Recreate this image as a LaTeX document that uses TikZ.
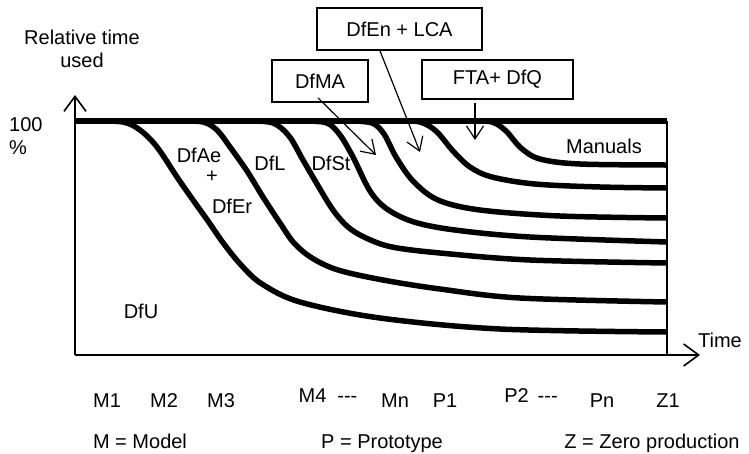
\documentclass[tikz,border=0pt]{standalone}
\usepackage{fontspec}
\setmainfont{Liberation Sans}
\usepackage{tikz}
\usetikzlibrary{positioning,arrows.meta}

\begin{document}
\begin{tikzpicture}[x=1pt, y=-1pt,
  lbl/.style={font=\fontsize{20}{23}\selectfont, inner sep=0pt},
  callout/.style={draw, line width=1.8pt, font=\fontsize{20}{23}\selectfont, inner sep=0pt},
  axis/.style={line width=2pt, -{Straight Barb[length=15pt, width=22pt, line width=1.6pt]}},
  frame/.style={line width=2pt},
  curve/.style={line width=5.5pt},
  pointer/.style={line width=1.2pt, -{Straight Barb[length=13pt, width=17pt, line width=1.2pt]}}]
  \useasboundingbox (0,0) rectangle (749,453);
  % axes and frame
  \coordinate (origin) at (75,355);
  \coordinate (ytip) at (75,95);
  \coordinate (xtip) at (700,355);
  \coordinate (topleft) at (75,121);
  \coordinate (topright) at (667,121);
  \coordinate (botright) at (667,355);
  \draw[axis] (origin) -- (ytip);
  \draw[axis] (origin) -- (xtip);
  \draw[frame] (topright) -- (botright);
  \draw[curve] (topleft) -- (topright);
  % the seven curves, DfU first
  \draw[curve] plot[smooth, tension=0.55] coordinates {(95,121) (123,122) (140,130) (157,147) (177,177) (193,200) (208,221) (224,244) (242,266) (262,284) (300,302) (380,318) (500,329) (667,332)};
  \draw[curve] plot[smooth, tension=0.55] coordinates {(180,121) (203,122) (217,130) (230,147) (247,171) (263,197) (280,223) (294,243) (312,258) (338,270) (383,280) (440,289) (520,298) (667,302)};
  \draw[curve] plot[smooth, tension=0.55] coordinates {(250,121) (273,123) (289,136) (303,160) (317,184) (333,210) (348,227) (366,238) (392,247) (440,253) (530,260) (667,263)};
  \draw[curve] plot[smooth, tension=0.55] coordinates {(305,121) (327,123) (340,135) (353,157) (370,191) (387,209) (414,222) (455,230) (530,237) (667,242)};
  \draw[curve] plot[smooth, tension=0.55] coordinates {(350,121) (372,123) (384,134) (396,157) (413,181) (438,200) (480,210) (560,216) (667,218)};
  \draw[curve] plot[smooth, tension=0.55] coordinates {(400,121) (420,122) (436,131) (453,151) (470,167) (492,177) (535,184) (600,187) (667,188)};
  \draw[curve] plot[smooth, tension=0.55] coordinates {(470,121) (492,122) (506,131) (521,148) (540,159) (580,164) (667,165)};
  % axis texts
  \node[lbl, align=center] (ylabel) at (82,49) {Relative time\\used};
  \node[lbl, align=left, anchor=west] (hundred) at (9,136) {100\\\%};
  \node[lbl, anchor=base] (timelbl) at (720,347) {Time};
  % curve texts
  \node[lbl, anchor=base] (dfae) at (199,162) {DfAe};
  \node[lbl] (plus) at (212,177) {+};
  \node[lbl, anchor=base] (dfer) at (232,213) {DfEr};
  \node[lbl, anchor=base] (dfl) at (270,170) {DfL};
  \node[lbl, anchor=base] (dfst) at (331,170) {DfSt};
  \node[lbl, anchor=base] (dfu) at (141,318) {DfU};
  \node[lbl, anchor=base] (manuals) at (604,153) {Manuals};
  % boxes with pointers
  \node[callout, minimum width=96pt, minimum height=42pt] (dfma) at (320,81) {DfMA};
  \node[callout, minimum width=165pt, minimum height=42pt] (dfen) at (399.5,29) {DfEn + LCA};
  \node[callout, minimum width=151pt, minimum height=39pt] (ftaq) at (497.5,79.5) {FTA+ DfQ};
  \coordinate (dfmatip) at (376,155);
  \coordinate (dfentip) at (420,152);
  \coordinate (ftaqtip) at (475,140);
  \draw[pointer] ([xshift=-2pt, yshift=5pt]dfma.south) -- (dfmatip);
  \draw[pointer] ([xshift=-19.5pt]dfen.south) -- (dfentip);
  \draw[pointer] ([xshift=-22.5pt, yshift=-3pt]ftaq.south) -- (ftaqtip);
  % stages along the time axis
  \node[lbl, anchor=base] (m1) at (107,407) {M1};
  \node[lbl, anchor=base] (m2) at (164,407) {M2};
  \node[lbl, anchor=base] (m3) at (221,407) {M3};
  \node[lbl, anchor=base] (m4) at (328,402) {M4\hspace{11pt}-{}-{}-};
  \node[lbl, anchor=base] (mn) at (395,407) {Mn};
  \node[lbl, anchor=base] (p1) at (445,407) {P1};
  \node[lbl, anchor=base] (p2) at (531,402) {P2\hspace{9pt}-{}-{}-};
  \node[lbl, anchor=base] (pn) at (602,407) {Pn};
  \node[lbl, anchor=base] (z1) at (668,407) {Z1};
  % key
  \node[lbl, anchor=base] (keym) at (140,448) {M = Model};
  \node[lbl, anchor=base] (keyp) at (382,448) {P = Prototype};
  \node[lbl, anchor=base] (keyz) at (652,448) {Z = Zero production};
\end{tikzpicture}
\end{document}
